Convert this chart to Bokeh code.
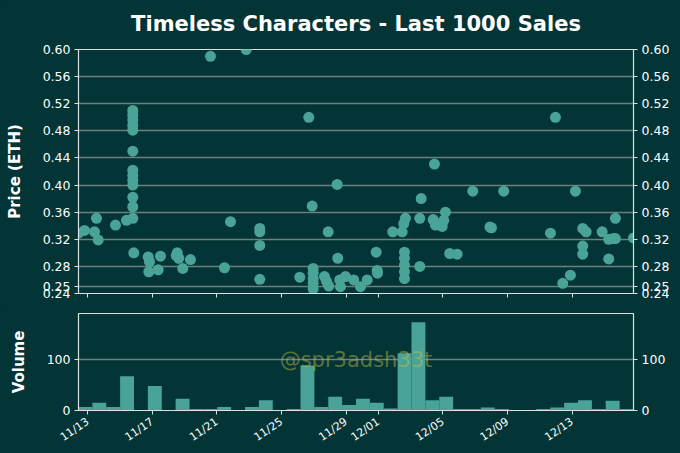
import numpy as np
import pandas as pd
from bokeh.plotting import figure
from bokeh.layouts import column
from bokeh.models import (ColumnDataSource, Range1d, LinearAxis, FixedTicker,
                          PrintfTickFormatter, DatetimeTickFormatter, Label,
                          CustomJSTickFormatter)
from bokeh.embed import file_html
from bokeh.resources import INLINE

# ---------------- data ----------------
sale_times = [
    "2021-11-12 10:10", "2021-11-12 19:06", "2021-11-13 09:58", "2021-11-13 15:27", "2021-11-13 12:56",
    "2021-11-14 17:11", "2021-11-15 09:32",
    "2021-11-15 18:53", "2021-11-15 18:53", "2021-11-15 18:53", "2021-11-15 18:53", "2021-11-15 18:53",
    "2021-11-15 18:53", "2021-11-15 18:53", "2021-11-15 18:53", "2021-11-15 18:53", "2021-11-15 18:53",
    "2021-11-15 18:53", "2021-11-15 18:53", "2021-11-15 18:53",
    "2021-11-15 20:23", "2021-11-16 17:47", "2021-11-16 19:42", "2021-11-16 18:40", "2021-11-17 08:38",
    "2021-11-17 12:03", "2021-11-18 12:53", "2021-11-18 15:16", "2021-11-18 21:11", "2021-11-19 08:38",
    "2021-11-18 11:30",
    "2021-11-20 14:22", "2021-11-21 11:11", "2021-11-21 20:07", "2021-11-22 19:26",
    "2021-11-23 15:39", "2021-11-23 15:39", "2021-11-23 15:39", "2021-11-23 15:39",
    "2021-11-26 03:06", "2021-11-26 16:29", "2021-11-26 21:32",
    "2021-11-26 23:01", "2021-11-26 23:01", "2021-11-26 23:01", "2021-11-26 23:01", "2021-11-26 23:01",
    "2021-11-27 15:49", "2021-11-27 18:48", "2021-11-27 22:12", "2021-11-27 21:19",
    "2021-11-28 10:42", "2021-11-28 11:35", "2021-11-28 14:34", "2021-11-28 15:36", "2021-11-28 23:02",
    "2021-11-29 11:22", "2021-11-29 21:20", "2021-11-30 07:18", "2021-11-30 20:40", "2021-11-30 22:09",
    "2021-11-30 22:34",
    "2021-12-01 21:20", "2021-12-02 11:18", "2021-12-02 13:41", "2021-12-02 16:13",
    "2021-12-02 14:44", "2021-12-02 14:44", "2021-12-02 14:44", "2021-12-02 14:44", "2021-12-02 14:44",
    "2021-12-03 15:33", "2021-12-03 13:28", "2021-12-03 13:28",
    "2021-12-04 09:23", "2021-12-04 11:18", "2021-12-04 12:48", "2021-12-04 22:45", "2021-12-05 01:09",
    "2021-12-05 03:40", "2021-12-05 10:03", "2021-12-05 21:03", "2021-12-06 20:15",
    "2021-12-08 00:03", "2021-12-07 21:49", "2021-12-08 18:19",
    "2021-12-11 15:45", "2021-12-11 23:10", "2021-12-12 10:00", "2021-12-12 21:27", "2021-12-13 04:54",
    "2021-12-13 15:45", "2021-12-13 20:48", "2021-12-13 15:45", "2021-12-13 15:45",
    "2021-12-14 20:36", "2021-12-15 06:23", "2021-12-15 12:56", "2021-12-15 16:20", "2021-12-15 06:23",
    "2021-12-15 16:20", "2021-12-16 19:12",
]
sale_prices = [
    0.329, 0.333, 0.331, 0.319, 0.351,
    0.341, 0.348,
    0.351, 0.368, 0.382, 0.400, 0.407,
    0.414, 0.422, 0.450, 0.481, 0.488,
    0.496, 0.503, 0.510,
    0.300, 0.294, 0.287, 0.272, 0.275,
    0.295, 0.300, 0.292, 0.277, 0.290,
    0.296,
    0.590, 0.278, 0.346, 0.600,
    0.336, 0.331, 0.311, 0.261,
    0.264, 0.500, 0.369,
    0.277, 0.270, 0.262, 0.255, 0.247,
    0.265, 0.258, 0.251, 0.331,
    0.401, 0.292, 0.260, 0.250, 0.265,
    0.260, 0.250, 0.260, 0.301, 0.274,
    0.270,
    0.331, 0.331, 0.343, 0.351,
    0.301, 0.292, 0.282, 0.272, 0.262,
    0.380, 0.351, 0.280,
    0.349, 0.431, 0.341, 0.339, 0.348,
    0.360, 0.299, 0.298, 0.391,
    0.337, 0.338, 0.391,
    0.329, 0.500, 0.255, 0.267, 0.391,
    0.336, 0.331, 0.310, 0.298,
    0.331, 0.320, 0.321, 0.321, 0.291,
    0.351, 0.322,
]
volume_counts = [7, 15, 7, 67, 0, 48, 0, 23, 3, 3,
                 7, 0, 7, 20, 0, 3, 88, 7, 27, 11,
                 23, 15, 4, 112, 173, 20, 27, 3, 3, 6,
                 3, 0, 0, 3, 6, 15, 20, 3, 19, 3]
price_ticks = [0.24, 0.25, 0.28, 0.32, 0.36, 0.40, 0.44, 0.48, 0.52, 0.56, 0.60]
volume_ticks = [0, 100]
date_ticks = ["2021-11-13", "2021-11-17", "2021-11-21", "2021-11-25", "2021-11-29",
              "2021-12-01", "2021-12-05", "2021-12-09", "2021-12-13"]

title_text = "Timeless Characters - Last 1000 Sales"
watermark = "@spr3adsh33t"

# ---------------- styling ----------------
BG = "#033536"
FG = "#ffffff"
FRAME = "#d9e3e2"
GRID = "#6d807e"
TEAL = "#4aa397"
FONT = "DejaVu Sans"

times = pd.to_datetime(sale_times)
t_ms = (times.astype("int64") // 10**6).to_numpy()
t_min, t_max = int(t_ms.min()), int(t_ms.max())
tick_ms = list((pd.to_datetime(date_ticks).astype("int64") // 10**6).to_numpy().astype(float))

edges = np.linspace(t_min, t_max, len(volume_counts) + 1)

x_range = Range1d(start=t_min, end=t_max)

W = 680


def style_axis(ax, ticks, fmt):
    ax.ticker = FixedTicker(ticks=ticks)
    ax.formatter = fmt
    ax.axis_line_color = FRAME
    ax.axis_line_width = 1.2
    ax.major_tick_line_color = FRAME
    ax.major_tick_out = 4
    ax.major_tick_in = 0
    ax.minor_tick_line_color = None
    ax.major_label_standoff = 4
    ax.major_label_text_color = FG
    ax.major_label_text_font = FONT
    ax.major_label_text_font_size = "12.5px"
    ax.axis_label_text_color = FG
    ax.axis_label_text_font = FONT
    ax.axis_label_text_font_style = "bold"
    ax.axis_label_text_font_size = "15px"


# ---- main price scatter ----
p1 = figure(width=W, height=306, x_axis_type="datetime", x_range=x_range,
            y_range=Range1d(0.24, 0.60), output_backend="svg", toolbar_location=None,
            min_border_left=78, min_border_right=47, min_border_top=49, min_border_bottom=13,
            background_fill_color=BG, border_fill_color=BG, outline_line_color=FRAME)
p1.title.text = title_text
p1.title.align = "center"
p1.title.vertical_align = "top"
p1.title.text_color = FG
p1.title.text_font = FONT
p1.title.text_font_size = "21px"
p1.title.text_font_style = "bold"
p1.title.standoff = 23

p1.scatter(x=t_ms, y=sale_prices, size=11, fill_color=TEAL, line_color=None)

style_axis(p1.yaxis[0], price_ticks, PrintfTickFormatter(format="%.2f"))
p1.yaxis[0].axis_label = "Price (ETH)"
p1.yaxis[0].axis_label_standoff = 16
ry = LinearAxis()
style_axis(ry, price_ticks, PrintfTickFormatter(format="%.2f"))
p1.add_layout(ry, "right")

style_axis(p1.xaxis[0], tick_ms, CustomJSTickFormatter(code="return ''"))
p1.xaxis[0].major_label_standoff = 0

p1.ygrid.ticker = FixedTicker(ticks=price_ticks)
p1.ygrid.grid_line_color = GRID
p1.ygrid.grid_line_width = 1.3
p1.xgrid.visible = False

# ---- volume histogram ----
p2 = figure(width=W, height=147, x_axis_type="datetime", x_range=x_range,
            y_range=Range1d(0, 190), output_backend="svg", toolbar_location=None,
            min_border_left=78, min_border_right=47, min_border_top=7, min_border_bottom=43,
            background_fill_color=BG, border_fill_color=BG, outline_line_color=FRAME)

src = ColumnDataSource(dict(left=edges[:-1], right=edges[1:], top=volume_counts))
p2.quad(left="left", right="right", top="top", bottom=0, source=src,
        fill_color=TEAL, line_color=None)

style_axis(p2.yaxis[0], volume_ticks, PrintfTickFormatter(format="%d"))
p2.yaxis[0].axis_label = "Volume"
p2.yaxis[0].axis_label_standoff = 16
ry2 = LinearAxis()
style_axis(ry2, volume_ticks, PrintfTickFormatter(format="%d"))
p2.add_layout(ry2, "right")

fmt = DatetimeTickFormatter(days="%m/%d", months="%m/%d", hours="%m/%d", years="%m/%d")
style_axis(p2.xaxis[0], tick_ms, fmt)
p2.xaxis[0].major_label_text_font_size = "11px"
p2.xaxis[0].major_label_standoff = 6
p2.xaxis[0].major_label_orientation = 0.6

p2.ygrid.ticker = FixedTicker(ticks=volume_ticks)
p2.ygrid.grid_line_color = GRID
p2.ygrid.grid_line_width = 1.3
p2.xgrid.visible = False

p2.add_layout(Label(x=(t_min + t_max) / 2, y=98, text=watermark, text_align="center",
                    text_baseline="middle", text_font=FONT, text_font_size="21px",
                    text_color="#c9c24a", text_alpha=0.45))

layout = column(p1, p2, spacing=0)
layout.styles = {"background-color": BG}

open("out.html", "w").write(file_html(layout, INLINE))
